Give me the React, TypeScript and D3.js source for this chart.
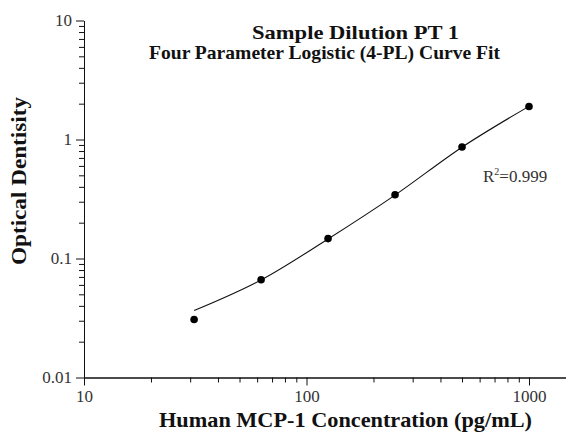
import React, { useRef, useEffect } from 'react';
import * as d3 from 'd3';

// standard concentrations (pg/mL) and measured optical density
const concentrations = [31.25, 62.5, 125, 250, 500, 1000];
const odValues = [0.0307, 0.0663, 0.147, 0.343, 0.865, 1.895];
// fitted 4-PL curve at the same concentrations
const fitValues = [0.0365, 0.066, 0.146, 0.341, 0.862, 1.9];

const xMajorTicks = [10, 100, 1000];
const yMajorTicks = [0.01, 0.1, 1, 10];
const yTickLabels = ['0.01', '0.1', '1', '10'];

const titleLine1 = 'Sample Dilution PT 1';
const titleLine2 = 'Four Parameter Logistic (4-PL) Curve Fit';
const xLabel = 'Human MCP-1 Concentration (pg/mL)';
const yLabel = 'Optical Dentisity';
const rSquared = '0.999';

const serif = '"Liberation Serif", "Times New Roman", serif';

const minorTicks = (lo: number, hi: number) => {
  const out: number[] = [];
  for (let d = lo; d < hi; d *= 10) {
    for (let k = 2; k <= 9; k++) out.push(d * k);
  }
  return out;
};

const Chart = ({ width = 566, height = 435 }) => {
  const svgRef = useRef<SVGSVGElement>(null);

  useEffect(() => {
    const svg = d3.select(svgRef.current);
    svg.selectAll('*').remove();
    svg.attr('width', width).attr('height', height);

    const x0 = 84;
    const decadeX = 222.5;
    const x = d3.scaleLog()
      .domain([10, 1500])
      .range([x0, x0 + decadeX * Math.log10(150)]);

    const y = d3.scaleLog()
      .domain([0.01, 10])
      .range([377.5, 20.5]);

    // y axis
    const yMinor = d3.axisLeft(y)
      .tickValues(minorTicks(0.01, 10))
      .tickSize(5)
      .tickSizeOuter(0)
      .tickFormat(() => '');
    svg.append('g').attr('transform', `translate(${x0},0)`).call(yMinor);

    const yMajor = d3.axisLeft(y)
      .tickValues(yMajorTicks)
      .tickSize(8)
      .tickSizeOuter(0)
      .tickPadding(4)
      .tickFormat((d, i) => yTickLabels[i]);
    svg.append('g').attr('transform', `translate(${x0},0)`).call(yMajor)
      .selectAll('text')
      .attr('font-family', serif)
      .attr('font-size', 17)
      .attr('fill', '#333');

    // x axis
    const yAxisPos = y(0.01);
    const xMinor = d3.axisBottom(x)
      .tickValues(minorTicks(10, 1000))
      .tickSize(5)
      .tickSizeOuter(0)
      .tickFormat(() => '');
    svg.append('g').attr('transform', `translate(0,${yAxisPos})`).call(xMinor);

    const xMajor = d3.axisBottom(x)
      .tickValues(xMajorTicks)
      .tickSize(8)
      .tickSizeOuter(0)
      .tickPadding(4)
      .tickFormat(d3.format('d'));
    svg.append('g').attr('transform', `translate(0,${yAxisPos})`).call(xMajor)
      .selectAll('text')
      .attr('font-family', serif)
      .attr('font-size', 17)
      .attr('fill', '#333');

    svg.selectAll('.domain, .tick line').attr('stroke', '#111');

    // fitted curve
    const line = d3.line<number>()
      .x((d, i) => x(concentrations[i]))
      .y((d) => y(d))
      .curve(d3.curveMonotoneX);

    svg.append('path')
      .datum(fitValues)
      .attr('d', line)
      .attr('fill', 'none')
      .attr('stroke', '#111')
      .attr('stroke-width', 1.1);

    // data points
    svg.selectAll('.pt')
      .data(odValues)
      .enter()
      .append('circle')
      .attr('class', 'pt')
      .attr('cx', (d, i) => x(concentrations[i]))
      .attr('cy', (d) => y(d))
      .attr('r', 3.8)
      .attr('fill', '#000');

    // titles
    svg.append('text')
      .attr('x', 252).attr('y', 39)
      .attr('font-family', serif).attr('font-weight', 'bold').attr('font-size', 19)
      .attr('textLength', 207).attr('lengthAdjust', 'spacingAndGlyphs')
      .attr('fill', '#111')
      .text(titleLine1);

    svg.append('text')
      .attr('x', 149).attr('y', 58.5)
      .attr('font-family', serif).attr('font-weight', 'bold').attr('font-size', 19)
      .attr('textLength', 351).attr('lengthAdjust', 'spacingAndGlyphs')
      .attr('fill', '#111')
      .text(titleLine2);

    // axis labels
    svg.append('text')
      .attr('x', 159).attr('y', 426.5)
      .attr('font-family', serif).attr('font-weight', 'bold').attr('font-size', 21)
      .attr('textLength', 373).attr('lengthAdjust', 'spacingAndGlyphs')
      .attr('fill', '#111')
      .text(xLabel);

    svg.append('text')
      .attr('transform', 'translate(26,265) rotate(-90)')
      .attr('font-family', serif).attr('font-weight', 'bold').attr('font-size', 20)
      .attr('textLength', 168).attr('lengthAdjust', 'spacingAndGlyphs')
      .attr('fill', '#111')
      .text(yLabel);

    // R squared
    const r2 = svg.append('text')
      .attr('x', 483).attr('y', 181.5)
      .attr('font-family', serif).attr('font-size', 17)
      .attr('fill', '#333');
    r2.append('tspan').text('R');
    r2.append('tspan').attr('font-size', 10).attr('dy', -7).text('2');
    r2.append('tspan').attr('dy', 7).text(`=${rSquared}`);
  }, [width, height]);

  return <svg ref={svgRef} style={{ position: 'absolute', left: 0, top: 0, background: '#fff' }}></svg>;
};

export default function App() {
  return <Chart />;
}
